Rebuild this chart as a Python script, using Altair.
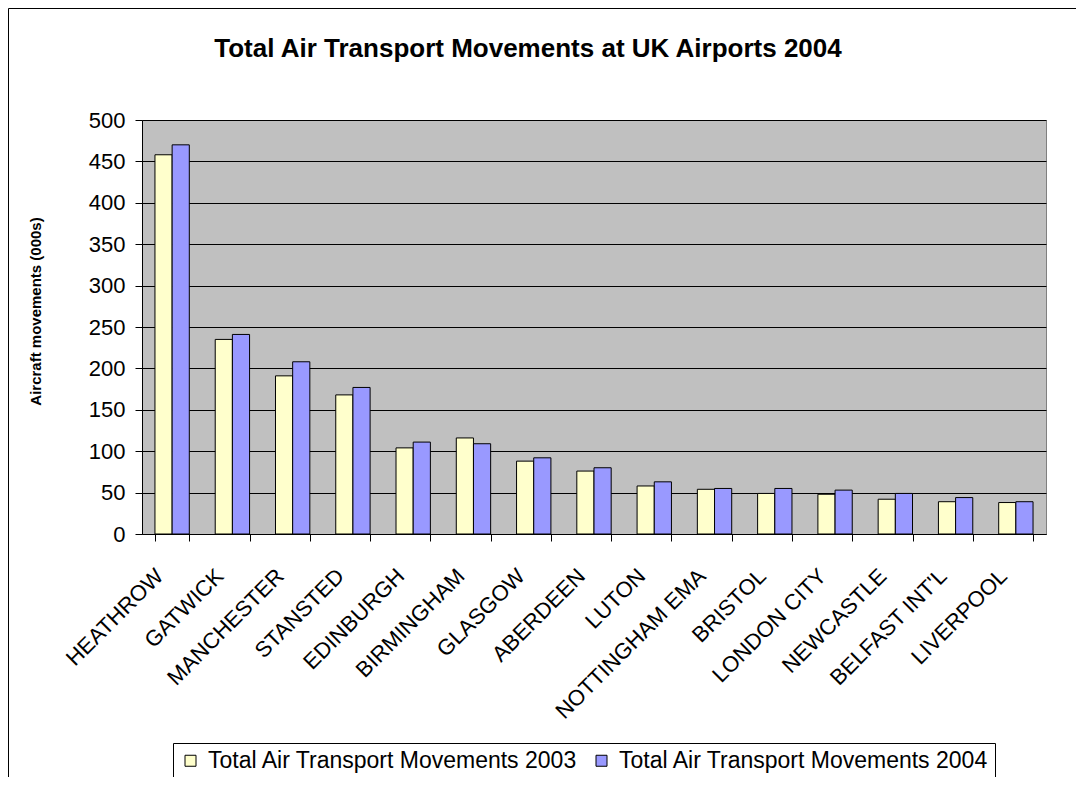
import altair as alt
import pandas as pd

airports = ["HEATHROW", "GATWICK", "MANCHESTER", "STANSTED", "EDINBURGH",
            "BIRMINGHAM", "GLASGOW", "ABERDEEN", "LUTON", "NOTTINGHAM EMA",
            "BRISTOL", "LONDON CITY", "NEWCASTLE", "BELFAST INT'L", "LIVERPOOL"]
v2003 = [458, 235, 191, 168, 104, 116, 88, 76, 58, 54, 49, 48, 42, 39, 38]
v2004 = [470, 241, 208, 177, 111, 109, 92, 80, 63, 55, 55, 53, 49, 44, 39]
series = ["Total Air Transport Movements 2003", "Total Air Transport Movements 2004"]
colors = ["#FFFFCC", "#9999FF"]
y_ticks = list(range(0, 501, 50))

rows = []
for a, x3, x4 in zip(airports, v2003, v2004):
    rows.append({"airport": a, "series": series[0], "value": x3})
    rows.append({"airport": a, "series": series[1], "value": x4})
df = pd.DataFrame(rows)

W, H = 904, 414

bars = alt.Chart(df).mark_bar(stroke="black", strokeWidth=1).encode(
    x=alt.X("airport:N", sort=airports, title=None,
            scale=alt.Scale(paddingInner=0.43, paddingOuter=0.215),
            axis=alt.Axis(labelAngle=-45, labelFontSize=22, labelColor="black",
                          labelPadding=24, labelOffset=-20, labelLimit=400,
                          tickBand="extent", tickSize=7,
                          tickColor="black", domainColor="black", grid=False,
                          labelFont="Liberation Sans")),
    xOffset=alt.XOffset("series:N", sort=series, scale=alt.Scale(paddingInner=0, paddingOuter=0)),
    y=alt.Y("value:Q", scale=alt.Scale(domain=[0, 500], nice=False),
            axis=alt.Axis(values=y_ticks, title="Aircraft movements (000s)",
                          titleFontSize=15, titleFontWeight="bold", titleColor="black",
                          titleX=-107, titleY=191, titleAngle=-90,
                          titleAlign="center", titleBaseline="middle",
                          labelFontSize=22, labelColor="black", labelPadding=10,
                          tickSize=7, tickColor="black", domainColor="black",
                          grid=True, gridColor="black", gridWidth=1,
                          labelFont="Liberation Sans", titleFont="Liberation Sans")),
    color=alt.Color("series:N", sort=series,
                    scale=alt.Scale(domain=series, range=colors),
                    legend=alt.Legend(title=None, orient="none", legendX=31, legendY=623,
                                      direction="horizontal", strokeColor="black",
                                      padding=6, symbolType="square", symbolSize=121,
                                      symbolStrokeColor="black", symbolStrokeWidth=1,
                                      labelFontSize=23, labelColor="black",
                                      labelFont="Liberation Sans",
                                      columnPadding=12, labelOffset=6,
                                      labelLimit=500)),
)

frame = alt.Chart(pd.DataFrame({"f": [0]})).mark_rect(
    fill="transparent", stroke="black", strokeWidth=1
).encode(
    x=alt.value(-133.5), x2=alt.value(3000),
    y=alt.value(-111.5), y2=alt.value(3000),
)

chart = alt.layer(bars, frame).properties(
    width=W, height=H,
    title=alt.TitleParams(
        "Total Air Transport Movements at UK Airports 2004",
        fontSize=26, fontWeight="bold", color="black", font="Liberation Sans",
        anchor="middle", frame="group", dx=-66, offset=-75, baseline="alphabetic"),
    autosize=alt.AutoSizeParams(type="none"),
    padding={"left": 134, "top": 112, "right": 30, "bottom": 243},
).configure(
    font="Liberation Sans", background="white"
).configure_view(
    fill="#C0C0C0", stroke="#808080", strokeWidth=1
)

chart.save("out.html", embed_options={"renderer": "svg", "actions": False})
